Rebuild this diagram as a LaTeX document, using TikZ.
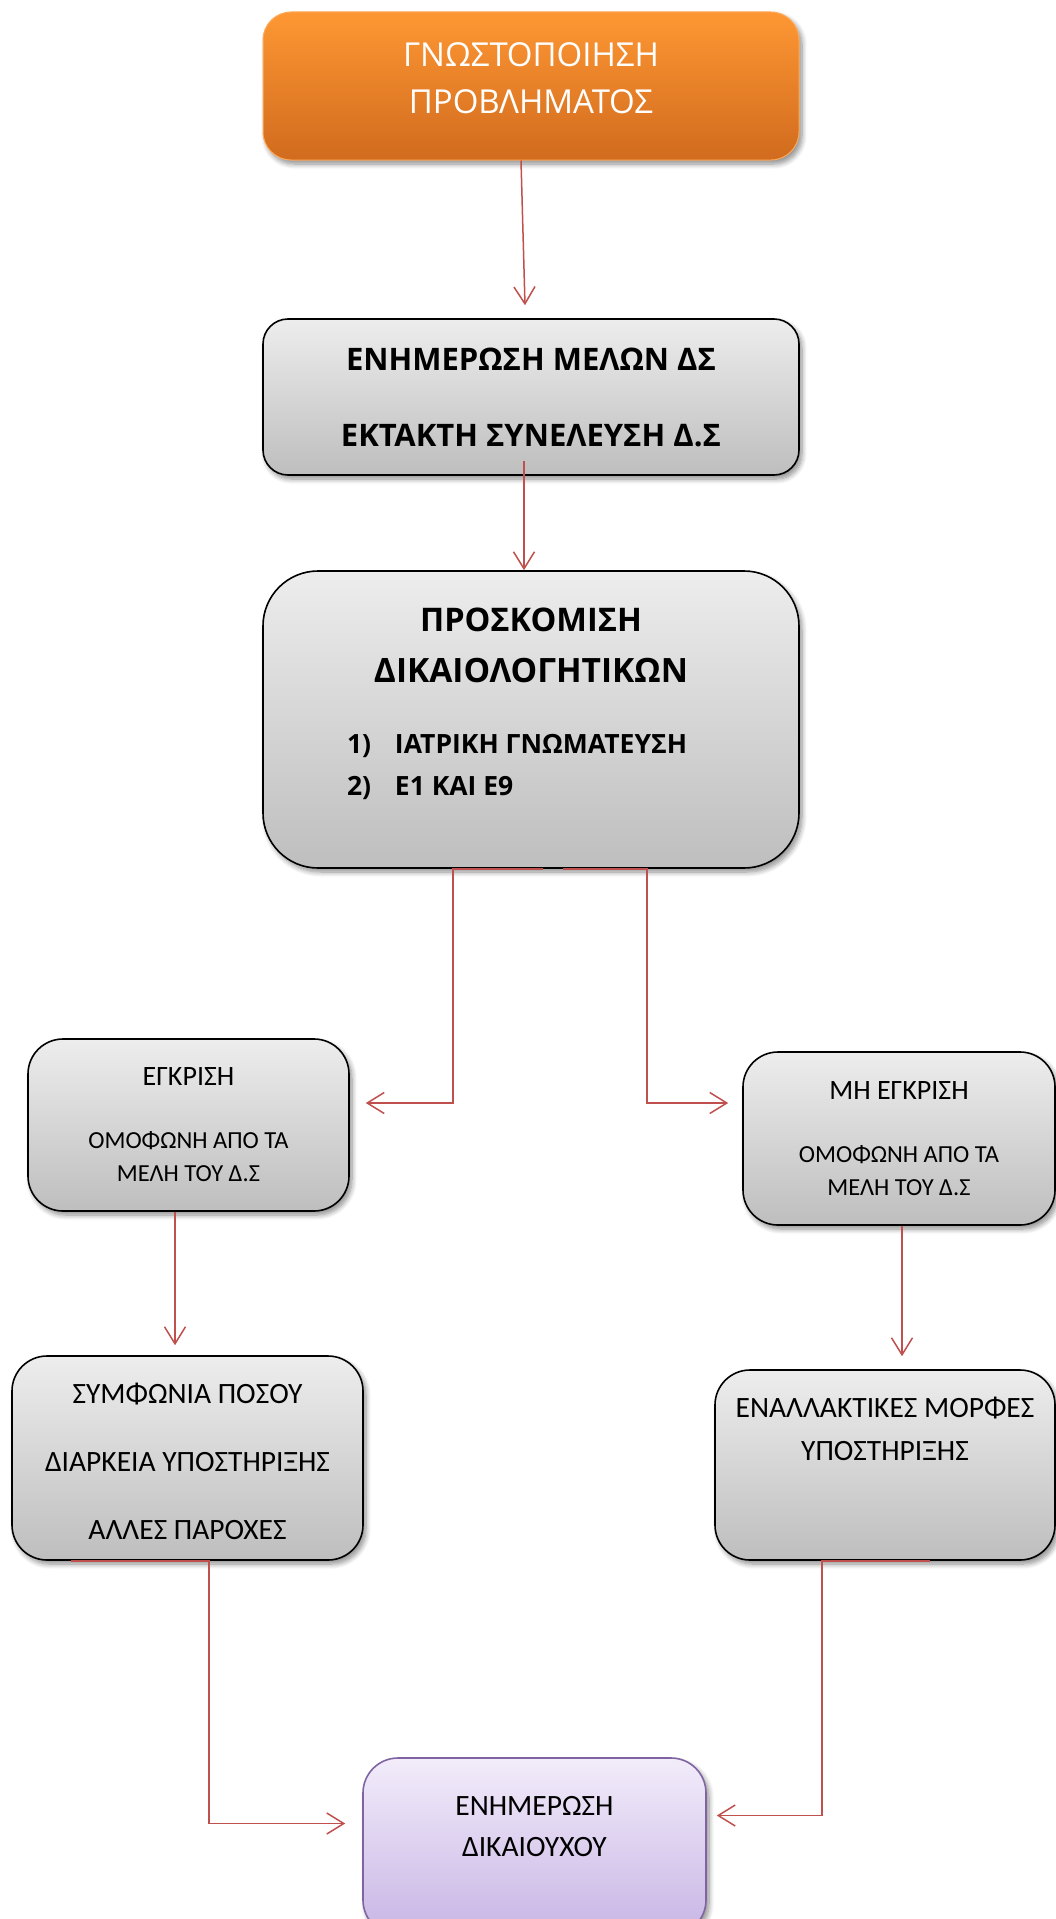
\documentclass[tikz,border=0pt]{standalone}
\usepackage{fontspec}
\setmainfont{Open Sans}
\newfontfamily\calib{Carlito}
\usetikzlibrary{arrows.meta,shadows.blur}
\definecolor{arrowred}{HTML}{C0504D}
\definecolor{orangetop}{HTML}{FE9733}
\definecolor{orangebot}{HTML}{D16B1E}
\definecolor{graytop}{HTML}{EDEDED}
\definecolor{graybot}{HTML}{BEBEBE}
\definecolor{lilactop}{HTML}{F2ECFA}
\definecolor{lilacbot}{HTML}{C8B5E5}
\definecolor{lilacline}{HTML}{8064A2}

\begin{document}
\begin{tikzpicture}[x=1pt, y=-1pt,
  boxshadow/.style={blur shadow={shadow blur steps=8, shadow xshift=3pt, shadow yshift=-4pt, shadow blur radius=5pt, shadow opacity=45}},
  noticebox/.style={rectangle, draw=orangetop!80!white, line width=1pt, top color=orangetop, bottom color=orangebot, text=white, align=center, inner sep=0pt, rounded corners=28pt, boxshadow},
  graybox/.style={rectangle, draw=black, line width=1.6pt, top color=graytop, bottom color=graybot, align=center, inner sep=0pt, rounded corners=#1, boxshadow},
  lilacbox/.style={rectangle, draw=lilacline, line width=1.6pt, top color=lilactop, bottom color=lilacbot, align=center, inner sep=0pt, rounded corners=35pt, boxshadow},
  arr/.style={-{Straight Barb[length=17pt, width=21pt, line width=1.5pt]}, line width=1.5pt, arrowred}
]
  \useasboundingbox (0,0) rectangle (1056,1919);

  % main column
  \node[noticebox, minimum width=536pt, minimum height=148pt, text depth=15pt, font=\fontsize{33}{47}\selectfont] (notice) at (531,86) {ΓΝΩΣΤΟΠΟΙΗΣΗ\\ΠΡΟΒΛΗΜΑΤΟΣ};
  \node[graybox=25pt, minimum width=536pt, minimum height=156pt, font=\bfseries\fontsize{31}{76}\selectfont] (inform) at (531,397) {ΕΝΗΜΕΡΩΣΗ ΜΕΛΩΝ ΔΣ\\ΕΚΤΑΚΤΗ ΣΥΝΕΛΕΥΣΗ Δ.Σ};
  \node[graybox=55pt, minimum width=536pt, minimum height=297pt, text depth=35.5pt, font=\bfseries\fontsize{26.5}{42}\selectfont] (docs) at (531,719.5) {%
    {\fontsize{32.5}{51}\selectfont ΠΡΟΣΚΟΜΙΣΗ}\\[9pt]
    {\fontsize{33.5}{51}\selectfont ΔΙΚΑΙΟΛΟΓΗΤΙΚΩΝ}\\[28.5pt]
    \makebox[368pt][l]{\makebox[48pt][l]{1)}ΙΑΤΡΙΚΗ ΓΝΩΜΑΤΕΥΣΗ}\\
    \makebox[368pt][l]{\makebox[48pt][l]{2)}Ε1 ΚΑΙ Ε9}};

  % decision
  \node[graybox=35pt, minimum width=321pt, minimum height=172pt, font=\calib\fontsize{24.5}{33}\selectfont] (yes) at (188.5,1125) {{\fontsize{28}{33}\selectfont ΕΓΚΡΙΣΗ}\\[30pt]ΟΜΟΦΩΝΗ ΑΠΟ ΤΑ\\ΜΕΛΗ ΤΟΥ Δ.Σ};
  \node[graybox=35pt, minimum width=312pt, minimum height=173pt, font=\calib\fontsize{24.5}{33}\selectfont] (no) at (899,1138.5) {{\fontsize{28}{33}\selectfont ΜΗ ΕΓΚΡΙΣΗ}\\[30pt]ΟΜΟΦΩΝΗ ΑΠΟ ΤΑ\\ΜΕΛΗ ΤΟΥ Δ.Σ};

  % outcome
  \node[graybox=35pt, minimum width=351pt, minimum height=204pt, font=\calib\fontsize{29.5}{68}\selectfont] (agree) at (187.5,1458) {\rule{0pt}{27pt}ΣΥΜΦΩΝΙΑ ΠΟΣΟΥ\\ΔΙΑΡΚΕΙΑ ΥΠΟΣΤΗΡΙΞΗΣ\\ΑΛΛΕΣ ΠΑΡΟΧΕΣ};
  \node[graybox=35pt, minimum width=340pt, minimum height=190pt, text depth=73pt, font=\calib\fontsize{29.5}{43}\selectfont] (other) at (885,1465) {ΕΝΑΛΛΑΚΤΙΚΕΣ ΜΟΡΦΕΣ\\ΥΠΟΣΤΗΡΙΞΗΣ};
  \node[lilacbox, minimum width=343pt, minimum height=177pt, text depth=40pt, font=\calib\fontsize{29.5}{41}\selectfont] (final) at (534.5,1846.5) {ΕΝΗΜΕΡΩΣΗ\\ΔΙΚΑΙΟΥΧΟΥ};

  \draw[arr] ([xshift=-10pt]notice.south) -- ([xshift=-6pt, yshift=13pt]inform.north);
  \draw[arr] ([xshift=-7pt, yshift=15pt]inform.south) -- ([xshift=-7pt]docs.north);
  \draw[arr] ([xshift=12pt]docs.south) -- ([xshift=-78pt]docs.south) |- ([xshift=16pt, yshift=22pt]yes.east);
  \draw[arr] ([xshift=32pt]docs.south) -- ([xshift=116pt]docs.south) |- ([xshift=-14pt, yshift=35.5pt]no.west);
  \draw[arr] ([xshift=-13.5pt]yes.south) -- ([xshift=-12.5pt, yshift=10pt]agree.north);
  \draw[arr] ([xshift=3pt]no.south) -- ([xshift=17pt, yshift=13pt]other.north);
  \draw[arr] ([xshift=-116.5pt]agree.south) -- ([xshift=21.5pt]agree.south) |- ([xshift=-17pt, yshift=23pt]final.west);
  \draw[arr] ([xshift=45pt]other.south) -- ([xshift=-63pt]other.south) |- ([xshift=10pt, yshift=31pt]final.east);
\end{tikzpicture}
\end{document}
